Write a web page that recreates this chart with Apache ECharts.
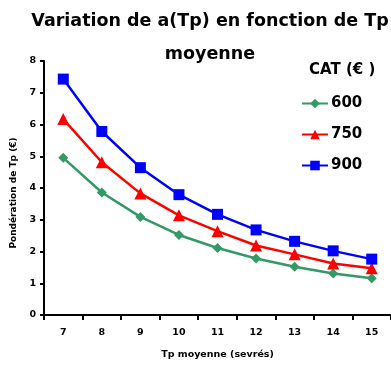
<!DOCTYPE html>
<html><head><meta charset="utf-8">
<script src="https://cdn.jsdelivr.net/npm/echarts@6/dist/echarts.min.js"></script>
<style>html,body{margin:0;padding:0;background:#fff}#c{width:391px;height:365px}</style>
</head><body><div id="c"></div>
<script>
const categories = ['7','8','9','10','11','12','13','14','15'];
const s600 = [4.95, 3.86, 3.09, 2.52, 2.11, 1.78, 1.52, 1.31, 1.16];
const s750 = [6.17, 4.81, 3.83, 3.14, 2.64, 2.19, 1.91, 1.62, 1.47];
const s900 = [7.43, 5.78, 4.64, 3.79, 3.17, 2.68, 2.32, 2.02, 1.76];
const seriesNames = ['600','750','900'];
const yTicks = [0,1,2,3,4,5,6,7,8];

const FONT = 'DejaVu Sans';
const chart = echarts.init(document.getElementById('c'), null, {renderer:'canvas'});
chart.setOption({
  animation:false,
  backgroundColor:'#fff',
  title:[
    {text:'Variation de a(Tp) en fonction de Tp\nmoyenne', left:205, top:0, textAlign:'center',
     textStyle:{fontFamily:FONT, fontWeight:'bold', fontSize:17.5, color:'#000', lineHeight:33}},
    {text:'CAT (€ )', left:304, top:58,
     textStyle:{fontFamily:FONT, fontWeight:'bold', fontSize:15, color:'#000'}}
  ],
  legend:{
    orient:'vertical', left:296, top:91, itemGap:16, itemWidth:26, itemHeight:12,
    data:seriesNames,
    textStyle:{fontFamily:FONT, fontWeight:'bold', fontSize:15, color:'#000', padding:[0,0,0,-2]}
  },
  grid:{left:44, top:61, width:360, height:258, containLabel:false},
  xAxis:{
    type:'category', data:categories, boundaryGap:true,
    name:'Tp moyenne (sevrés)', nameLocation:'middle', nameGap:35,
    nameTextStyle:{fontFamily:FONT, fontWeight:'bold', fontSize:9.5, color:'#000'},
    axisLine:{lineStyle:{color:'#000', width:2}},
    axisTick:{show:true, alignWithLabel:false, length:5, lineStyle:{color:'#000', width:2}},
    axisLabel:{fontFamily:FONT, fontWeight:'bold', fontSize:9.5, color:'#000', margin:13},
    splitLine:{show:false}
  },
  yAxis:{
    type:'value', min:yTicks[0], max:yTicks[yTicks.length-1], interval:1,
    name:'Pondération de Tp (€)', nameLocation:'middle', nameGap:17, nameRotate:90,
    nameTextStyle:{fontFamily:FONT, fontWeight:'bold', fontSize:9, color:'#000', padding:[0,10,0,0]},
    axisLine:{show:true, lineStyle:{color:'#000', width:2}},
    axisTick:{show:true, length:4, lineStyle:{color:'#000', width:2}},
    axisLabel:{fontFamily:FONT, fontWeight:'bold', fontSize:9.5, color:'#000', margin:8},
    splitLine:{show:false}
  },
  series:[
    {name:seriesNames[0], type:'line', data:s600, symbol:'diamond', symbolSize:10,
     itemStyle:{color:'#339966'}, lineStyle:{color:'#339966', width:2.5}},
    {name:seriesNames[1], type:'line', data:s750, symbol:'triangle', symbolSize:12,
     itemStyle:{color:'#ff0000'}, lineStyle:{color:'#ff0000', width:2.5}},
    {name:seriesNames[2], type:'line', data:s900, symbol:'rect', symbolSize:11,
     itemStyle:{color:'#0000ff'}, lineStyle:{color:'#0000ff', width:2.5}}
  ]
});
</script></body></html>
